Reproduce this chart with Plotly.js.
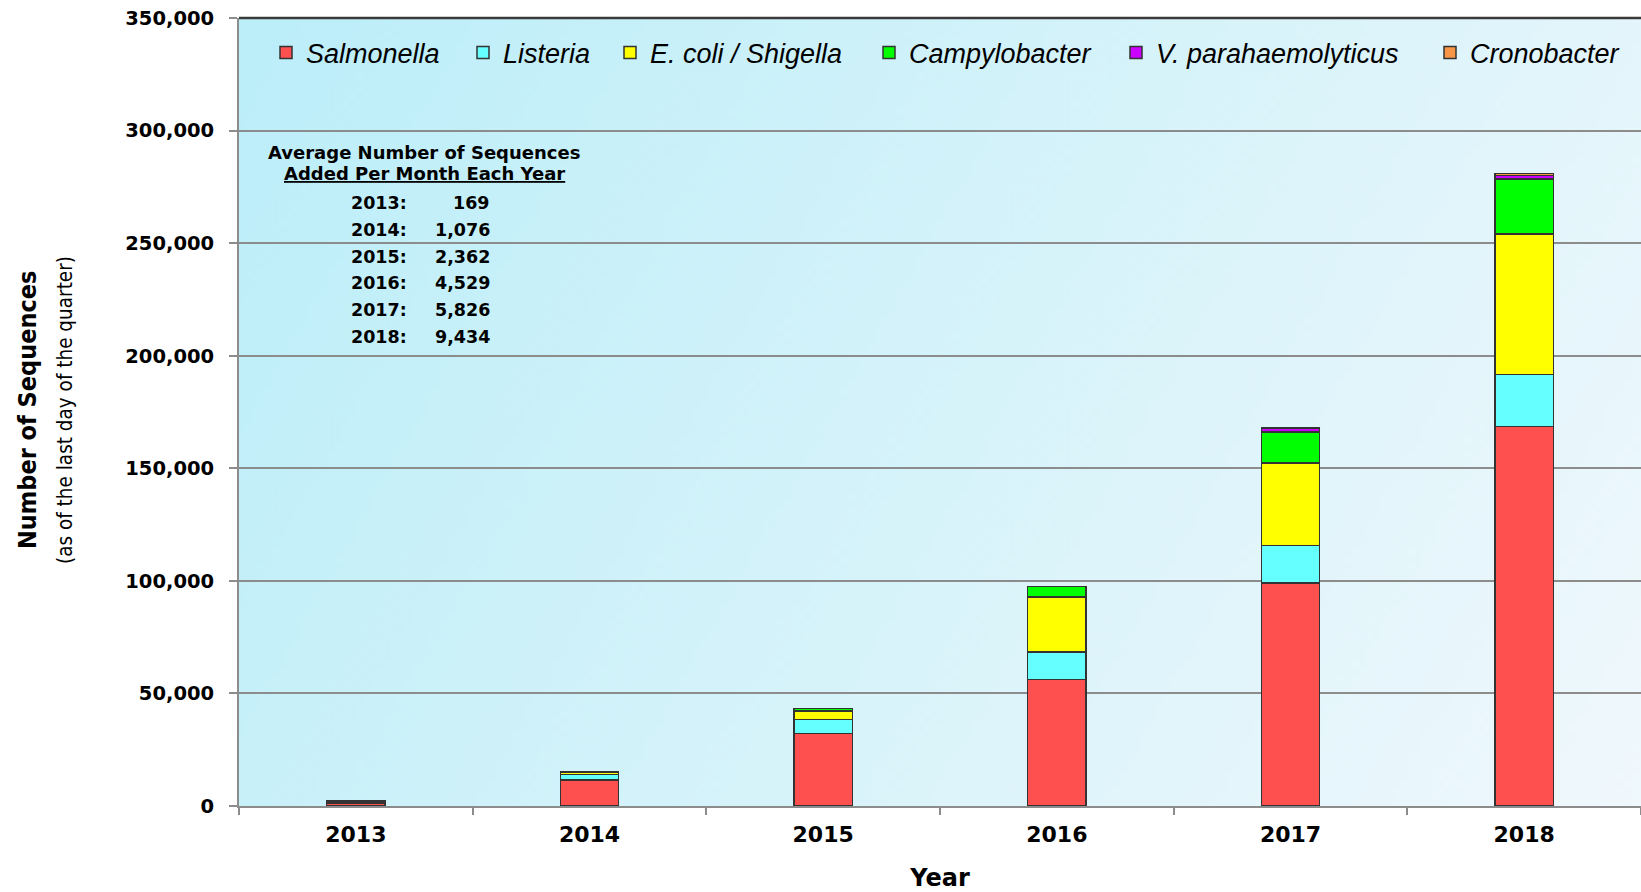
<!DOCTYPE html>
<html>
<head>
<meta charset="utf-8">
<script src="https://cdn.plot.ly/plotly-3.0.1.min.js"></script>
<style>
  html, body { margin: 0; padding: 0; background: #ffffff; }
  #chart { width: 1641px; height: 892px; }
</style>
</head>
<body>
<div id="chart"></div>
<script>
// ---- Data ----
const years = ['2013', '2014', '2015', '2016', '2017', '2018'];
const salmonella = [1300, 11500, 32300, 56200, 99100, 168600];
const listeria   = [1000, 2500, 6200, 12300, 16600, 23100];
const ecoliShigella = [200, 1200, 3800, 24400, 36600, 62400];
const campylobacter = [0, 200, 900, 4700, 13800, 24400];
const vParahaemolyticus = [0, 0, 0, 0, 1600, 1500];
const cronobacter = [0, 0, 0, 0, 200, 900];

const seriesNames = ['Salmonella', 'Listeria', 'E. coli / Shigella', 'Campylobacter', 'V. parahaemolyticus', 'Cronobacter'];
const seriesColors = ['#ff5050', '#66ffff', '#ffff00', '#00ff00', '#cc00ff', '#f79646'];

const avgYears = ['2013:', '2014:', '2015:', '2016:', '2017:', '2018:'];
const avgValues = ['169', '1,076', '2,362', '4,529', '5,826', '9,434'];

// ---- Background gradient (drawn to a canvas, used as a layout image) ----
function gradientURL() {
  const c = document.createElement('canvas');
  c.width = 400; c.height = 225;
  const g = c.getContext('2d');
  const lg = g.createLinearGradient(0, 0, 400, 225);
  lg.addColorStop(0, '#bbeef9');
  lg.addColorStop(0.5, '#d6f3fa');
  lg.addColorStop(1, '#f0f8fd');
  g.fillStyle = lg;
  g.fillRect(0, 0, 400, 225);
  return c.toDataURL('image/png');
}

const W = 1641, H = 892;
const margin = { l: 239, r: 0, t: 18, b: 86 };
const plotW = W - margin.l - margin.r;
const plotH = H - margin.t - margin.b;
const px2x = px => (px - margin.l) / plotW;
const py2y = py => (H - margin.b - py) / plotH;

// legend marker left positions in the reference (pixels)
const legendMarkerPx = [285, 482, 629, 888, 1135, 1449];
const legendIds = ['legend', 'legend2', 'legend3', 'legend4', 'legend5', 'legend6'];

const allSeries = [salmonella, listeria, ecoliShigella, campylobacter, vParahaemolyticus, cronobacter];
const traces = allSeries.map((vals, i) => ({
  type: 'bar',
  name: seriesNames[i],
  x: years,
  y: vals,
  width: 0.25,
  legend: legendIds[i],
  marker: { color: seriesColors[i], line: { color: '#333333', width: 1.5 } },
  hoverinfo: 'x+y+name'
}));

const boldFont = 'DejaVu Sans, Verdana, sans-serif';
const narrowFont = 'Liberation Sans Narrow, DejaVu Sans Condensed, Arial Narrow, sans-serif';
const annotations = [];

// Table heading
annotations.push({
  xref: 'paper', yref: 'paper', x: px2x(424), y: py2y(152),
  xanchor: 'center', yanchor: 'middle', showarrow: false,
  text: '<b>Average Number of Sequences</b>',
  font: { family: boldFont, size: 18, color: '#000' }
});
annotations.push({
  xref: 'paper', yref: 'paper', x: px2x(424), y: py2y(173),
  xanchor: 'center', yanchor: 'middle', showarrow: false,
  text: '<b><u>Added Per Month Each Year</u></b>',
  font: { family: boldFont, size: 18, color: '#000' }
});
avgYears.forEach((yr, i) => {
  const py = 203 + i * 26.8;
  annotations.push({
    xref: 'paper', yref: 'paper', x: px2x(409), y: py2y(py),
    xanchor: 'right', yanchor: 'middle', showarrow: false,
    text: '<b>' + yr + '</b>',
    font: { family: boldFont, size: 17.5, color: '#000' }
  });
  annotations.push({
    xref: 'paper', yref: 'paper', x: px2x(492), y: py2y(py),
    xanchor: 'right', yanchor: 'middle', showarrow: false,
    text: '<b>' + avgValues[i] + '</b>',
    font: { family: boldFont, size: 17.5, color: '#000' }
  });
});

// Y axis titles (two lines, different styles)
annotations.push({
  xref: 'paper', yref: 'paper', x: px2x(27), y: py2y(410),
  xanchor: 'center', yanchor: 'middle', showarrow: false, textangle: -90,
  text: '<b>Number of Sequences</b>',
  font: { family: narrowFont, size: 25, color: '#000' }
});
annotations.push({
  xref: 'paper', yref: 'paper', x: px2x(65), y: py2y(410),
  xanchor: 'center', yanchor: 'middle', showarrow: false, textangle: -90,
  text: '(as of the last day of the quarter)',
  font: { family: narrowFont, size: 20.5, color: '#000' }
});

const layout = {
  width: W, height: H,
  margin: margin,
  paper_bgcolor: '#ffffff',
  plot_bgcolor: 'rgba(0,0,0,0)',
  barmode: 'stack',
  showlegend: true,
  images: [{
    source: gradientURL(), xref: 'paper', yref: 'paper',
    x: 0, y: 1, sizex: 1, sizey: 1, sizing: 'stretch',
    xanchor: 'left', yanchor: 'top', layer: 'below'
  }],
  xaxis: {
    type: 'category',
    range: [-0.5, 5.5],
    showline: true, linecolor: '#8c8c8c', linewidth: 2,
    ticks: 'outside', tickson: 'boundaries', ticklen: 7, tickwidth: 2, tickcolor: '#8c8c8c',
    ticklabelstandoff: 8,
    tickfont: { family: boldFont, size: 22, weight: 'bold', color: '#000' },
    showgrid: false, zeroline: false,
    title: { text: '<b>Year</b>', font: { family: boldFont, size: 24, color: '#000' }, standoff: 29 },
    automargin: false, fixedrange: true
  },
  yaxis: {
    range: [0, 350000], dtick: 50000, tickformat: ',d',
    showline: true, linecolor: '#8c8c8c', linewidth: 2,
    ticks: 'outside', ticklen: 8, tickwidth: 2, tickcolor: '#8c8c8c',
    ticklabelstandoff: 11,
    tickfont: { family: boldFont, size: 19.5, weight: 'bold', color: '#000' },
    showgrid: true, gridcolor: '#8c8c8c', gridwidth: 2,
    zeroline: false, automargin: false, fixedrange: true
  },
  shapes: [{
    type: 'line', xref: 'paper', yref: 'paper', x0: 0, x1: 1, y0: 1, y1: 1,
    line: { color: '#3a3a3a', width: 2.5 }
  }],
  annotations: annotations
};

// one legend per series so each entry sits where it does in the reference
legendIds.forEach((id, i) => {
  layout[id] = {
    orientation: 'h', traceorder: 'normal',
    x: px2x(legendMarkerPx[i] - 19), xanchor: 'left', y: py2y(53), yanchor: 'middle',
    bgcolor: 'rgba(0,0,0,0)',
    font: { family: 'Liberation Sans, Arial, sans-serif', size: 27, style: 'italic', color: '#000' }
  };
});

Plotly.newPlot('chart', traces, layout, { displayModeBar: false, staticPlot: true });
</script>
</body>
</html>
